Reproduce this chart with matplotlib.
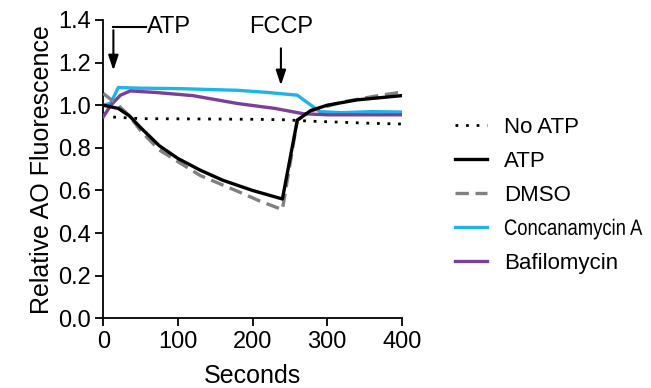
import matplotlib
matplotlib.use("Agg")
import matplotlib.pyplot as plt
from matplotlib.patheffects import AbstractPathEffect
from matplotlib.transforms import Affine2D

plt.rcParams['font.family'] = ['Liberation Sans', 'DejaVu Sans']

# Data
t_noatp = [0, 10, 50, 100, 150, 200, 240, 280, 320, 360, 400]
v_noatp = [0.96, 0.945, 0.937, 0.936, 0.935, 0.934, 0.932, 0.925, 0.92, 0.915, 0.912]

t_atp = [0, 20, 35, 50, 75, 100, 130, 160, 200, 240, 260, 278, 300, 340, 400]
v_atp = [1.0, 0.985, 0.95, 0.895, 0.81, 0.75, 0.695, 0.648, 0.60, 0.56, 0.93, 0.975, 1.0, 1.025, 1.045]

t_dmso = [0, 20, 35, 50, 75, 100, 130, 180, 210, 240, 260, 280, 320, 360, 400]
v_dmso = [1.055, 1.0, 0.95, 0.88, 0.79, 0.735, 0.67, 0.596, 0.55, 0.51, 0.93, 0.975, 1.015, 1.04, 1.062]

t_conc = [0, 10, 20, 50, 100, 180, 220, 260, 290, 320, 360, 400]
v_conc = [1.0, 1.01, 1.083, 1.08, 1.078, 1.07, 1.06, 1.047, 0.97, 0.965, 0.97, 0.968]

t_baf = [0, 10, 23, 36, 70, 120, 180, 230, 268, 300, 350, 400]
v_baf = [0.946, 1.0, 1.047, 1.067, 1.06, 1.045, 1.008, 0.985, 0.96, 0.955, 0.955, 0.955]

labels = ["No ATP", "ATP", "DMSO", "Concanamycin A", "Bafilomycin"]
xticks = [0, 100, 200, 300, 400]
yticks = [0.0, 0.2, 0.4, 0.6, 0.8, 1.0, 1.2, 1.4]


class Squeeze(AbstractPathEffect):
    """Horizontally condense text about its left origin."""
    def __init__(self, sx=0.83):
        super().__init__()
        self.sx = sx

    def draw_path(self, renderer, gc, tpath, affine, rgbFace=None):
        x0 = affine.get_matrix()[0, 2]
        extra = Affine2D().translate(-x0, 0).scale(self.sx, 1).translate(x0, 0)
        renderer.draw_path(gc, tpath, affine + extra, rgbFace)


fig = plt.figure(figsize=(6.51, 3.88), dpi=100)
ax = fig.add_axes([0.1587, 0.1796, 0.4585, 0.7689])

lw = 2.4
ax.plot(t_noatp, v_noatp, color='black', lw=2.0, ls=(0, (1, 2.8)), label=labels[0], zorder=3)
ax.plot(t_dmso, v_dmso, color='#808080', lw=lw, ls=(0, (4, 2)), label=labels[2], zorder=4)
ax.plot(t_atp, v_atp, color='black', lw=lw, label=labels[1], zorder=5)
ax.plot(t_conc, v_conc, color='#1EB4EA', lw=lw, label=labels[3], zorder=3)
ax.plot(t_baf, v_baf, color='#7B3F9A', lw=lw, label=labels[4], zorder=3)

ax.set_xlim(0, 400)
ax.set_ylim(0, 1.4)
ax.set_xticks(xticks)
ax.set_yticks(yticks)
ax.set_yticklabels([f"{v:.1f}" for v in yticks])
for s in ['top', 'right']:
    ax.spines[s].set_visible(False)
for s in ['left', 'bottom']:
    ax.spines[s].set_linewidth(1.3)
ax.tick_params(direction='out', length=6, width=1.3, labelsize=17)
ax.tick_params(axis='x', pad=3)
ax.tick_params(axis='y', pad=3)
ax.set_xlabel("Seconds", fontsize=18, labelpad=8)
ax.set_ylabel("Relative AO Fluorescence", fontsize=18, labelpad=3)
for sp in ax.spines.values():
    sp.set_clip_on(False)

# Annotations
ax.annotate("", xy=(13.5, 1.15), xytext=(13.5, 1.365),
            arrowprops=dict(arrowstyle='-|>,head_length=0.9,head_width=0.3', color='black', lw=1.5),
            annotation_clip=False)
ax.plot([13.5, 57], [1.365, 1.365], color='black', lw=1.5, clip_on=False)
ax.text(58, 1.365, "ATP", fontsize=17, va='center', ha='left')
ax.annotate("", xy=(238, 1.08), xytext=(238, 1.28),
            arrowprops=dict(arrowstyle='-|>,head_length=0.9,head_width=0.3', color='black', lw=1.5),
            annotation_clip=False)
ax.text(238, 1.365, "FCCP", fontsize=17, va='center', ha='center')

handles, labs = ax.get_legend_handles_labels()
order = [labs.index(l) for l in labels]
leg = fig.legend([handles[i] for i in order], [labs[i] for i in order],
                 loc='upper left', bbox_to_anchor=(0.699, 0.698), frameon=False,
                 borderpad=0, borderaxespad=0,
                 fontsize=16, handlelength=1.45, labelspacing=0.58, handletextpad=0.75)

for txt in leg.get_texts():
    if txt.get_text() == "Concanamycin A":
        txt.set_path_effects([Squeeze(0.83)])

fig.savefig("out.png", dpi=100)
